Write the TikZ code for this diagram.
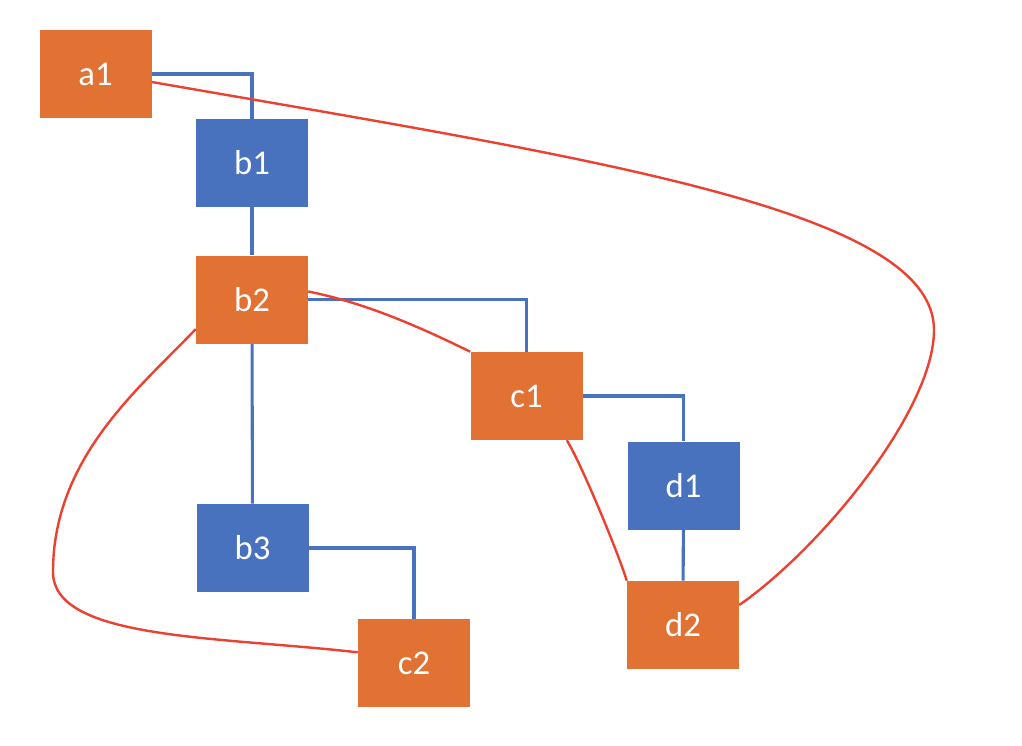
\documentclass[tikz,border=0pt]{standalone}
\usepackage{fontspec}
\setmainfont{Carlito}
\definecolor{boxorange}{RGB}{226,114,52}
\definecolor{boxblue}{RGB}{72,114,190}
\definecolor{linkred}{RGB}{236,64,48}

\begin{document}
\begin{tikzpicture}[x=0.75pt, y=-0.75pt,
    box/.style={minimum width=84pt, minimum height=66pt, inner sep=0pt,
      text=white, font=\fontsize{26}{30}\selectfont},
    orangebox/.style={box, fill=boxorange},
    bluebox/.style={box, fill=boxblue},
    tree/.style={draw=boxblue, line width=2.3pt},
    link/.style={draw=linkred, line width=1.8pt}]
    \useasboundingbox (0,0) rectangle (1022,746);

    \node[orangebox] (a1) at (95.5,74) {a1};
    \node[bluebox] (b1) at (252,163) {b1};
    \node[orangebox] (b2) at (252,299.5) {b2};
    \node[bluebox] (b3) at (252.5,548) {b3};
    \node[orangebox] (c1) at (526.5,396) {c1};
    \node[orangebox] (c2) at (414,663) {c2};
    \node[bluebox] (d1) at (683.5,485.5) {d1};
    \node[orangebox] (d2) at (683,625) {d2};
    \coordinate (loop) at (934,330);
    \coordinate (bend) at (53,572);

    \draw[tree] (a1) -| (b1);
    \draw[tree] (b1) -- (b2);
    \draw[tree] (b2) -- (b3);
    \draw[tree] (b2) -| (c1);
    \draw[tree] (b3) -| (c2);
    \draw[tree] (c1) -| (d1);
    \draw[tree] (d1) -- (d2);

    \draw[link] ([yshift=-6pt]a1.east) .. controls +(443,77) and +(0,-120) .. (loop)
      .. controls +(0,80) and +(82,-57) .. ([yshift=15pt]d2.east);
    \draw[link] ([yshift=6pt]b2.east) .. controls +(55,11) and +(-55,-27) .. (c1.north west);
    \draw[link] ([yshift=11pt]b2.south west) .. controls +(-55,58) and +(0,-115) .. (bend)
      .. controls +(0,68) and +(-140,-16) .. ([yshift=8pt]c2.west);
    \draw[link] ([xshift=-12pt]c1.south east) .. controls +(13,20) and +(-8,-27) .. (d2.north west);

  \end{tikzpicture}
\end{document}
